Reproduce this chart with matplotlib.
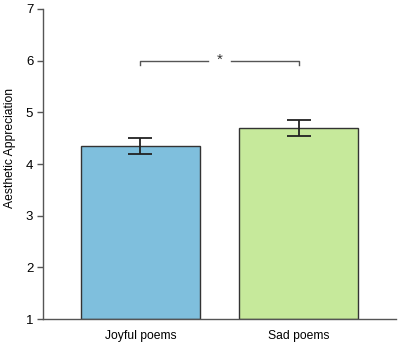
import matplotlib.pyplot as plt

plt.rcParams['font.family'] = ['Liberation Sans', 'DejaVu Sans']

categories = ['Joyful poems', 'Sad poems']
means = [4.35, 4.70]
errors = [0.16, 0.15]
colors = ['#7fbfdd', '#c6e99b']
sig_level = 6.0

fig = plt.figure(figsize=(4.0, 3.46), dpi=100)
ax = fig.add_axes([0.1075, 0.078, 0.8825, 0.896])

x = range(len(categories))
ax.bar(x, [m - 1 for m in means], bottom=1, width=0.753, color=colors,
       edgecolor='#333333', linewidth=1.0, zorder=2)
ax.errorbar(x, means, yerr=errors, fmt='none', ecolor='#222222',
            elinewidth=1.3, capsize=8.6, capthick=1.3, zorder=3)

# significance bracket
tick_h = 0.08
ax.plot([0, 0, 0.43], [sig_level - tick_h, sig_level, sig_level], color='#555555', lw=1)
ax.plot([0.57, 1, 1], [sig_level, sig_level, sig_level - tick_h], color='#555555', lw=1)
ax.text(0.5, sig_level + 0.02, '*', ha='center', va='center', fontsize=11, color='#333333')

ax.set_xlim(-0.617, 1.617)
ax.set_ylim(1, 7)
ax.set_yticks(range(1, 8))
ax.set_xticks(list(x))
ax.set_xticklabels(categories, fontsize=8.7)
ax.tick_params(axis='x', length=0, pad=8)
ax.tick_params(axis='y', length=4, width=1, color='#555555', labelsize=9.5, pad=3)
ax.set_ylabel('Aesthetic Appreciation', fontsize=8.7, labelpad=7, y=0.553)

for s in ['top', 'right']:
    ax.spines[s].set_visible(False)
for s in ['left', 'bottom']:
    ax.spines[s].set_color('#555555')
    ax.spines[s].set_linewidth(1)

fig.savefig('out.png', dpi=100)
